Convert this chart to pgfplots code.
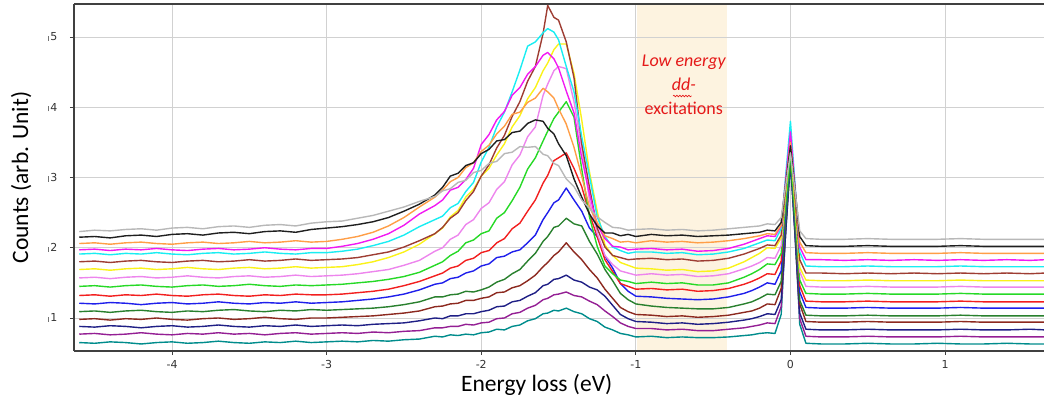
\documentclass[border=0pt]{standalone}
\usepackage{fontspec}
\setmainfont{Carlito}
\newfontfamily\tickfont{DejaVu Sans}
\usepackage{pgfplots}
\pgfplotsset{compat=1.18}
\usetikzlibrary{decorations.pathmorphing}
\definecolor{cteal}{rgb}{0.0,0.55,0.55}
\definecolor{cpurple}{rgb}{0.58,0.12,0.58}
\definecolor{cnavy}{rgb}{0.12,0.12,0.52}
\definecolor{cmaroon}{rgb}{0.55,0.16,0.12}
\definecolor{cdgreen}{rgb}{0.16,0.50,0.18}
\definecolor{cblue}{rgb}{0.12,0.12,0.92}
\definecolor{cred}{rgb}{0.95,0.12,0.12}
\definecolor{cgreen}{rgb}{0.15,0.85,0.15}
\definecolor{cviolet}{rgb}{0.93,0.52,0.93}
\definecolor{cyellow}{rgb}{0.98,0.95,0.10}
\definecolor{cbrown}{rgb}{0.62,0.24,0.20}
\definecolor{ccyan}{rgb}{0.10,0.93,0.95}
\definecolor{cmagenta}{rgb}{0.95,0.10,0.95}
\definecolor{corange}{rgb}{1.0,0.62,0.28}
\definecolor{cblack}{rgb}{0.12,0.12,0.12}
\definecolor{cgray}{rgb}{0.72,0.72,0.72}
\definecolor{bandc}{rgb}{0.992,0.953,0.878}
\definecolor{annred}{rgb}{0.9,0.1,0.1}
\begin{document}
\begin{tikzpicture}
\begin{axis}[
  set layers=standard,
  scale only axis, width=970pt, height=347pt,
  at={(0pt,0pt)}, anchor=south west,
  xmin=-4.634, xmax=1.64, ymin=0.53, ymax=5.47,
  axis x line*=box, axis y line*=left,
  xtick={-4,-3,-2,-1,0,1}, ytick={1,2,3,4,5},
  xtick pos=bottom, ytick pos=left,
  tick align=outside, major tick length=4pt,
  grid=major, grid style={line width=0.8pt, color=black!18},
  axis line style={line width=1.2pt, color=black!75},
  tick style={line width=0.8pt, color=black!75},
  /pgf/number format/assume math mode=true,
  ticklabel style={font=\tickfont\fontsize{11}{13}\selectfont, color=black!80},
  xticklabel style={yshift=-2pt},
  yticklabel style={xshift=-9pt},
  yticklabel={\textcolor{black!55}{\rule{0.8pt}{5pt}}\hspace{1.5pt}\pgfmathprintnumber{\tick}},
  xlabel={Energy loss (eV)}, ylabel={Counts (arb. Unit)},
  label style={font=\fontsize{23.5}{26}\selectfont},
  xlabel style={at={(axis description cs:0.477,-0.097)}, anchor=center},
  ylabel style={at={(axis description cs:-0.0545,0.5)}, anchor=center},
  every axis plot/.append style={line width=1.4pt, line join=round, no markers},
]
\addplot[fill=bandc, draw=none, on layer=axis background] coordinates {(-0.99,0.53) (-0.41,0.53) (-0.41,5.47) (-0.99,5.47)};

% teal
\addplot[cteal] coordinates {(-4.6,0.65) (-4.5,0.64) (-4.4,0.66) (-4.3,0.65) (-4.2,0.63) (-4.1,0.65) (-4.0,0.66) (-3.9,0.64) (-3.8,0.65) (-3.7,0.67) (-3.6,0.65) (-3.5,0.64) (-3.4,0.66) (-3.3,0.65) (-3.2,0.67) (-3.1,0.65) (-3.0,0.66)
(-2.9,0.67) (-2.8,0.66) (-2.7,0.68) (-2.6,0.67) (-2.5,0.69) (-2.4,0.70)
(-2.3,0.74) (-2.25,0.73) (-2.2,0.76) (-2.15,0.75) (-2.1,0.77) (-2.05,0.76) (-2.0,0.79) (-1.95,0.80) (-1.9,0.84) (-1.85,0.83) (-1.8,0.88) (-1.75,0.90) (-1.7,0.96) (-1.65,0.99) (-1.6,1.06) (-1.57,1.07) (-1.53,1.11) (-1.5,1.10) (-1.45,1.14) (-1.4,1.09) (-1.35,1.06) (-1.3,0.99) (-1.25,0.95) (-1.2,0.87) (-1.15,0.83) (-1.1,0.78) (-1.05,0.76) (-1.0,0.73)
(-0.9,0.74) (-0.8,0.72) (-0.7,0.73) (-0.6,0.72) (-0.5,0.72) (-0.4,0.73) (-0.3,0.75) (-0.25,0.76) (-0.2,0.78) (-0.15,0.79) (-0.1,0.78)
(-0.06,1.05) (-0.03,2.27) (0,3.45) (0.03,2.21) (0.06,0.91) (0.1,0.64)
(0.2,0.63) (0.35,0.63) (0.5,0.64) (0.65,0.63) (0.8,0.63) (0.95,0.64) (1.1,0.63) (1.25,0.63) (1.4,0.64) (1.55,0.63) (1.65,0.63)};

% purple
\addplot[cpurple] coordinates {(-4.6,0.77) (-4.5,0.78) (-4.4,0.76) (-4.3,0.77) (-4.2,0.79) (-4.1,0.77) (-4.0,0.76) (-3.9,0.78) (-3.8,0.77) (-3.7,0.79) (-3.6,0.77) (-3.5,0.78) (-3.4,0.76) (-3.3,0.78) (-3.2,0.79) (-3.1,0.77) (-3.0,0.78)
(-2.9,0.79) (-2.8,0.78) (-2.7,0.80) (-2.6,0.79) (-2.5,0.81) (-2.4,0.82)
(-2.3,0.86) (-2.25,0.86) (-2.2,0.88) (-2.15,0.88) (-2.1,0.91) (-2.05,0.90) (-2.0,0.93) (-1.95,0.94) (-1.9,0.99) (-1.85,1.00) (-1.8,1.06) (-1.75,1.08) (-1.7,1.14) (-1.65,1.18) (-1.6,1.26) (-1.57,1.28) (-1.53,1.33) (-1.5,1.34) (-1.45,1.37) (-1.4,1.32) (-1.35,1.30) (-1.3,1.24) (-1.25,1.19) (-1.2,1.10) (-1.15,1.02) (-1.1,0.93) (-1.05,0.88) (-1.0,0.85)
(-0.9,0.85) (-0.8,0.83) (-0.7,0.84) (-0.6,0.82) (-0.5,0.82) (-0.4,0.84) (-0.3,0.86) (-0.25,0.88) (-0.2,0.90) (-0.15,0.93) (-0.1,0.92)
(-0.06,1.16) (-0.03,2.25) (0,3.30) (0.03,2.17) (0.06,0.99) (0.1,0.74)
(0.2,0.73) (0.35,0.73) (0.5,0.74) (0.65,0.73) (0.8,0.73) (0.95,0.73) (1.1,0.74) (1.25,0.73) (1.4,0.73) (1.55,0.73) (1.65,0.73)};

% navy
\addplot[cnavy] coordinates {(-4.6,0.88) (-4.5,0.87) (-4.4,0.89) (-4.3,0.88) (-4.2,0.86) (-4.1,0.88) (-4.0,0.89) (-3.9,0.87) (-3.8,0.88) (-3.7,0.90) (-3.6,0.88) (-3.5,0.87) (-3.4,0.89) (-3.3,0.88) (-3.2,0.90) (-3.1,0.88) (-3.0,0.89)
(-2.9,0.90) (-2.8,0.89) (-2.7,0.91) (-2.6,0.92) (-2.5,0.93) (-2.4,0.96)
(-2.3,1.00) (-2.25,0.99) (-2.2,1.03) (-2.15,1.03) (-2.1,1.06) (-2.05,1.06) (-2.0,1.09) (-1.95,1.11) (-1.9,1.16) (-1.85,1.17) (-1.8,1.23) (-1.75,1.25) (-1.7,1.31) (-1.65,1.36) (-1.6,1.46) (-1.57,1.48) (-1.53,1.55) (-1.5,1.56) (-1.45,1.61) (-1.4,1.54) (-1.35,1.51) (-1.3,1.44) (-1.25,1.40) (-1.2,1.31) (-1.15,1.18) (-1.1,1.05) (-1.05,0.99) (-1.0,0.95)
(-0.9,0.94) (-0.8,0.92) (-0.7,0.93) (-0.6,0.91) (-0.5,0.92) (-0.4,0.94) (-0.3,0.97) (-0.25,0.99) (-0.2,1.02) (-0.15,1.06) (-0.1,1.05)
(-0.06,1.26) (-0.03,2.25) (0,3.20) (0.03,2.16) (0.06,1.07) (0.1,0.84)
(0.2,0.83) (0.35,0.83) (0.5,0.84) (0.65,0.83) (0.8,0.83) (0.95,0.83) (1.1,0.84) (1.25,0.83) (1.4,0.83) (1.55,0.84) (1.65,0.83)};

% maroon
\addplot[cmaroon] coordinates {(-4.6,0.98) (-4.5,0.99) (-4.4,0.97) (-4.3,0.99) (-4.2,0.98) (-4.1,1.00) (-4.0,0.98) (-3.9,0.97) (-3.8,0.99) (-3.7,1.00) (-3.6,0.98) (-3.5,0.99) (-3.4,1.01) (-3.3,0.99) (-3.2,0.98) (-3.1,1.00) (-3.0,1.00)
(-2.9,1.01) (-2.8,1.02) (-2.7,1.03) (-2.6,1.05) (-2.5,1.07) (-2.4,1.10)
(-2.3,1.16) (-2.25,1.17) (-2.2,1.20) (-2.15,1.21) (-2.1,1.25) (-2.05,1.25) (-2.0,1.28) (-1.95,1.30) (-1.9,1.36) (-1.85,1.37) (-1.8,1.43) (-1.75,1.46) (-1.7,1.53) (-1.65,1.61) (-1.6,1.73) (-1.57,1.79) (-1.53,1.89) (-1.5,1.94) (-1.45,2.07) (-1.4,1.94) (-1.35,1.83) (-1.3,1.69) (-1.25,1.57) (-1.2,1.41) (-1.15,1.28) (-1.1,1.15) (-1.05,1.09) (-1.0,1.05)
(-0.9,1.04) (-0.8,1.02) (-0.7,1.03) (-0.6,1.01) (-0.5,1.02) (-0.4,1.04) (-0.3,1.08) (-0.25,1.10) (-0.2,1.14) (-0.15,1.20) (-0.1,1.19)
(-0.06,1.42) (-0.03,2.48) (0,3.50) (0.03,2.37) (0.06,1.20) (0.1,0.95)
(0.2,0.94) (0.35,0.94) (0.5,0.95) (0.65,0.94) (0.8,0.94) (0.95,0.94) (1.1,0.95) (1.25,0.94) (1.4,0.94) (1.55,0.94) (1.65,0.94)};

% dark green
\addplot[cdgreen] coordinates {(-4.6,1.09) (-4.5,1.10) (-4.4,1.08) (-4.3,1.10) (-4.2,1.11) (-4.1,1.09) (-4.0,1.08) (-3.9,1.10) (-3.8,1.09) (-3.7,1.11) (-3.6,1.12) (-3.5,1.10) (-3.4,1.09) (-3.3,1.11) (-3.2,1.10) (-3.1,1.12) (-3.0,1.11)
(-2.9,1.12) (-2.8,1.13) (-2.7,1.14) (-2.6,1.16) (-2.5,1.19) (-2.4,1.23)
(-2.3,1.30) (-2.25,1.30) (-2.2,1.33) (-2.15,1.34) (-2.1,1.38) (-2.05,1.37) (-2.0,1.40) (-1.95,1.44) (-1.9,1.51) (-1.85,1.55) (-1.8,1.63) (-1.75,1.69) (-1.7,1.81) (-1.65,1.92) (-1.6,2.09) (-1.57,2.16) (-1.53,2.29) (-1.5,2.31) (-1.45,2.42) (-1.4,2.34) (-1.35,2.31) (-1.3,2.09) (-1.25,1.91) (-1.2,1.69) (-1.15,1.53) (-1.1,1.35) (-1.05,1.26) (-1.0,1.20)
(-0.9,1.17) (-0.8,1.15) (-0.7,1.14) (-0.6,1.13) (-0.5,1.13) (-0.4,1.15) (-0.3,1.20) (-0.25,1.23) (-0.2,1.28) (-0.15,1.34) (-0.1,1.33)
(-0.06,1.52) (-0.03,2.40) (0,3.25) (0.03,2.27) (0.06,1.25) (0.1,1.04)
(0.2,1.03) (0.35,1.03) (0.5,1.04) (0.65,1.03) (0.8,1.03) (0.95,1.03) (1.1,1.04) (1.25,1.03) (1.4,1.03) (1.55,1.03) (1.65,1.03)};

% blue
\addplot[cblue] coordinates {(-4.6,1.21) (-4.5,1.20) (-4.4,1.22) (-4.3,1.21) (-4.2,1.19) (-4.1,1.21) (-4.0,1.22) (-3.9,1.20) (-3.8,1.21) (-3.7,1.23) (-3.6,1.21) (-3.5,1.20) (-3.4,1.22) (-3.3,1.21) (-3.2,1.23) (-3.1,1.21) (-3.0,1.22)
(-2.9,1.23) (-2.8,1.25) (-2.7,1.27) (-2.6,1.30) (-2.5,1.34) (-2.4,1.40)
(-2.3,1.48) (-2.25,1.50) (-2.2,1.56) (-2.15,1.58) (-2.1,1.64) (-2.05,1.67) (-2.0,1.74) (-1.95,1.77) (-1.9,1.86) (-1.85,1.88) (-1.8,1.94) (-1.75,1.97) (-1.7,2.07) (-1.65,2.18) (-1.6,2.40) (-1.57,2.50) (-1.53,2.64) (-1.5,2.68) (-1.45,2.85) (-1.4,2.68) (-1.35,2.52) (-1.3,2.28) (-1.25,2.16) (-1.2,1.88) (-1.15,1.71) (-1.1,1.49) (-1.05,1.38) (-1.0,1.31)
(-0.9,1.30) (-0.8,1.28) (-0.7,1.27) (-0.6,1.26) (-0.5,1.27) (-0.4,1.30) (-0.3,1.35) (-0.25,1.39) (-0.2,1.44) (-0.15,1.50) (-0.1,1.48)
(-0.06,1.67) (-0.03,2.56) (0,3.40) (0.03,2.41) (0.06,1.37) (0.1,1.15)
(0.2,1.14) (0.35,1.14) (0.5,1.15) (0.65,1.14) (0.8,1.14) (0.95,1.14) (1.1,1.15) (1.25,1.14) (1.4,1.14) (1.55,1.14) (1.65,1.14)};

% red
\addplot[cred] coordinates {(-4.6,1.32) (-4.5,1.33) (-4.4,1.31) (-4.3,1.33) (-4.2,1.32) (-4.1,1.34) (-4.0,1.32) (-3.9,1.31) (-3.8,1.33) (-3.7,1.34) (-3.6,1.32) (-3.5,1.31) (-3.4,1.33) (-3.3,1.32) (-3.2,1.34) (-3.1,1.33) (-3.0,1.33)
(-2.9,1.34) (-2.8,1.36) (-2.7,1.38) (-2.6,1.41) (-2.5,1.46) (-2.4,1.52)
(-2.3,1.60) (-2.25,1.64) (-2.2,1.71) (-2.15,1.74) (-2.1,1.82) (-2.05,1.85) (-2.0,1.93) (-1.95,1.96) (-1.9,2.07) (-1.85,2.13) (-1.8,2.27) (-1.75,2.35) (-1.7,2.52) (-1.65,2.68) (-1.6,2.92) (-1.57,3.03) (-1.53,3.24) (-1.5,3.28) (-1.45,3.35) (-1.4,3.13) (-1.35,2.87) (-1.3,2.48) (-1.25,2.16) (-1.2,1.83) (-1.15,1.66) (-1.1,1.49) (-1.05,1.45) (-1.0,1.41)
(-0.9,1.42) (-0.8,1.40) (-0.7,1.41) (-0.6,1.38) (-0.5,1.39) (-0.4,1.42) (-0.3,1.48) (-0.25,1.52) (-0.2,1.57) (-0.15,1.63) (-0.1,1.62)
(-0.06,1.81) (-0.03,2.70) (0,3.55) (0.03,2.53) (0.06,1.46) (0.1,1.24)
(0.2,1.23) (0.35,1.23) (0.5,1.24) (0.65,1.23) (0.8,1.23) (0.95,1.23) (1.1,1.24) (1.25,1.23) (1.4,1.23) (1.55,1.23) (1.65,1.23)};

% green
\addplot[cgreen] coordinates {(-4.6,1.45) (-4.5,1.46) (-4.4,1.44) (-4.3,1.46) (-4.2,1.47) (-4.1,1.45) (-4.0,1.44) (-3.9,1.46) (-3.8,1.47) (-3.7,1.45) (-3.6,1.46) (-3.5,1.48) (-3.4,1.46) (-3.3,1.45) (-3.2,1.47) (-3.1,1.46) (-3.0,1.47)
(-2.9,1.48) (-2.8,1.50) (-2.7,1.52) (-2.6,1.55) (-2.5,1.59) (-2.4,1.65)
(-2.3,1.75) (-2.25,1.80) (-2.2,1.89) (-2.15,1.95) (-2.1,2.07) (-2.05,2.11) (-2.0,2.20) (-1.95,2.24) (-1.9,2.42) (-1.85,2.50) (-1.8,2.67) (-1.75,2.86) (-1.7,3.12) (-1.65,3.28) (-1.6,3.52) (-1.57,3.66) (-1.53,3.84) (-1.5,3.93) (-1.45,4.08) (-1.4,3.86) (-1.35,3.12) (-1.3,2.44) (-1.25,2.02) (-1.2,1.74) (-1.15,1.63) (-1.1,1.54) (-1.05,1.52) (-1.0,1.49)
(-0.9,1.51) (-0.8,1.49) (-0.7,1.50) (-0.6,1.47) (-0.5,1.47) (-0.4,1.50) (-0.3,1.58) (-0.25,1.63) (-0.2,1.69) (-0.15,1.77) (-0.1,1.76)
(-0.06,1.92) (-0.03,2.65) (0,3.35) (0.03,2.47) (0.06,1.54) (0.1,1.35)
(0.2,1.34) (0.35,1.34) (0.5,1.35) (0.65,1.34) (0.8,1.34) (0.95,1.34) (1.1,1.35) (1.25,1.34) (1.4,1.34) (1.55,1.34) (1.65,1.34)};

% violet
\addplot[cviolet] coordinates {(-4.6,1.57) (-4.5,1.58) (-4.4,1.56) (-4.3,1.58) (-4.2,1.59) (-4.1,1.57) (-4.0,1.58) (-3.9,1.60) (-3.8,1.58) (-3.7,1.57) (-3.6,1.59) (-3.5,1.60) (-3.4,1.58) (-3.3,1.59) (-3.2,1.61) (-3.1,1.59) (-3.0,1.60)
(-2.9,1.61) (-2.8,1.63) (-2.7,1.66) (-2.6,1.69) (-2.5,1.75) (-2.4,1.82)
(-2.3,1.95) (-2.25,2.00) (-2.2,2.12) (-2.15,2.18) (-2.1,2.33) (-2.05,2.40) (-2.0,2.56) (-1.95,2.64) (-1.9,2.83) (-1.85,2.94) (-1.8,3.18) (-1.75,3.32) (-1.7,3.58) (-1.65,3.72) (-1.6,4.17) (-1.57,4.33) (-1.53,4.52) (-1.5,4.58) (-1.45,4.55) (-1.4,4.08) (-1.35,3.42) (-1.3,2.68) (-1.25,2.21) (-1.2,1.89) (-1.15,1.76) (-1.1,1.67) (-1.05,1.64) (-1.0,1.61)
(-0.9,1.63) (-0.8,1.61) (-0.7,1.62) (-0.6,1.59) (-0.5,1.60) (-0.4,1.63) (-0.3,1.70) (-0.25,1.74) (-0.2,1.79) (-0.15,1.86) (-0.1,1.85)
(-0.06,2.03) (-0.03,2.83) (0,3.60) (0.03,2.65) (0.06,1.66) (0.1,1.45)
(0.2,1.44) (0.35,1.44) (0.5,1.45) (0.65,1.44) (0.8,1.44) (0.95,1.44) (1.1,1.45) (1.25,1.44) (1.4,1.44) (1.55,1.44) (1.65,1.44)};

% yellow
\addplot[cyellow] coordinates {(-4.6,1.69) (-4.5,1.70) (-4.4,1.68) (-4.3,1.70) (-4.2,1.71) (-4.1,1.69) (-4.0,1.70) (-3.9,1.72) (-3.8,1.70) (-3.7,1.69) (-3.6,1.71) (-3.5,1.72) (-3.4,1.70) (-3.3,1.71) (-3.2,1.73) (-3.1,1.71) (-3.0,1.72)
(-2.9,1.73) (-2.8,1.76) (-2.7,1.80) (-2.6,1.86) (-2.5,1.94) (-2.4,2.05)
(-2.3,2.20) (-2.25,2.28) (-2.2,2.44) (-2.15,2.53) (-2.1,2.72) (-2.05,2.83) (-2.0,3.02) (-1.95,3.13) (-1.9,3.32) (-1.85,3.48) (-1.8,3.72) (-1.75,3.88) (-1.7,4.12) (-1.65,4.28) (-1.6,4.52) (-1.57,4.63) (-1.53,4.82) (-1.5,4.90) (-1.45,4.90) (-1.4,4.48) (-1.35,3.82) (-1.3,3.08) (-1.25,2.52) (-1.2,2.04) (-1.15,1.89) (-1.1,1.79) (-1.05,1.75) (-1.0,1.71)
(-0.9,1.70) (-0.8,1.68) (-0.7,1.69) (-0.6,1.66) (-0.5,1.67) (-0.4,1.71) (-0.3,1.80) (-0.25,1.86) (-0.2,1.92) (-0.15,2.00) (-0.1,1.99)
(-0.06,2.14) (-0.03,2.81) (0,3.45) (0.03,2.61) (0.06,1.72) (0.1,1.54)
(0.2,1.53) (0.35,1.53) (0.5,1.54) (0.65,1.53) (0.8,1.53) (0.95,1.53) (1.1,1.54) (1.25,1.53) (1.4,1.53) (1.55,1.53) (1.65,1.53)};

% brown
\addplot[cbrown] coordinates {(-4.6,1.80) (-4.5,1.81) (-4.4,1.79) (-4.3,1.81) (-4.2,1.82) (-4.1,1.80) (-4.0,1.79) (-3.9,1.81) (-3.8,1.82) (-3.7,1.80) (-3.6,1.81) (-3.5,1.83) (-3.4,1.81) (-3.3,1.82) (-3.2,1.84) (-3.1,1.82) (-3.0,1.83)
(-2.9,1.84) (-2.8,1.86) (-2.7,1.90) (-2.6,1.94) (-2.5,2.01) (-2.4,2.10)
(-2.3,2.20) (-2.25,2.29) (-2.2,2.42) (-2.15,2.50) (-2.1,2.67) (-2.05,2.80) (-2.0,3.02) (-1.95,3.18) (-1.9,3.42) (-1.85,3.60) (-1.8,3.87) (-1.75,4.08) (-1.7,4.37) (-1.65,4.58) (-1.6,5.05) (-1.57,5.45) (-1.53,5.28) (-1.5,5.24) (-1.45,4.93) (-1.4,4.42) (-1.35,3.48) (-1.3,2.86) (-1.25,2.28) (-1.2,2.01) (-1.15,1.89) (-1.1,1.86) (-1.05,1.83) (-1.0,1.84)
(-0.9,1.85) (-0.8,1.83) (-0.7,1.84) (-0.6,1.81) (-0.5,1.82) (-0.4,1.85) (-0.3,1.91) (-0.25,1.95) (-0.2,1.99) (-0.15,2.04) (-0.1,2.03)
(-0.06,2.18) (-0.03,2.88) (0,3.55) (0.03,2.71) (0.06,1.83) (0.1,1.64)
(0.2,1.64) (0.35,1.63) (0.5,1.64) (0.65,1.63) (0.8,1.64) (0.95,1.63) (1.1,1.64) (1.25,1.63) (1.4,1.64) (1.55,1.63) (1.65,1.64)};

% cyan
\addplot[ccyan] coordinates {(-4.6,1.91) (-4.5,1.92) (-4.4,1.90) (-4.3,1.92) (-4.2,1.91) (-4.1,1.93) (-4.0,1.91) (-3.9,1.90) (-3.8,1.92) (-3.7,1.93) (-3.6,1.91) (-3.5,1.92) (-3.4,1.94) (-3.3,1.92) (-3.2,1.91) (-3.1,1.93) (-3.0,1.93)
(-2.9,1.95) (-2.8,1.98) (-2.7,2.03) (-2.6,2.09) (-2.5,2.18) (-2.4,2.30)
(-2.3,2.40) (-2.25,2.45) (-2.2,2.57) (-2.15,2.63) (-2.1,2.80) (-2.05,2.93) (-2.0,3.22) (-1.95,3.43) (-1.9,3.72) (-1.85,3.93) (-1.8,4.22) (-1.75,4.53) (-1.7,4.87) (-1.65,4.93) (-1.6,5.06) (-1.57,5.12) (-1.53,5.07) (-1.5,4.96) (-1.45,4.58) (-1.4,4.22) (-1.35,3.58) (-1.3,3.02) (-1.25,2.44) (-1.2,2.16) (-1.15,2.01) (-1.1,1.96) (-1.05,1.92) (-1.0,1.94)
(-0.9,1.94) (-0.8,1.92) (-0.7,1.93) (-0.6,1.90) (-0.5,1.91) (-0.4,1.94) (-0.3,1.99) (-0.25,2.03) (-0.2,2.07) (-0.15,2.11) (-0.1,2.10)
(-0.06,2.27) (-0.03,3.05) (0,3.80) (0.03,2.89) (0.06,1.94) (0.1,1.74)
(0.2,1.73) (0.35,1.73) (0.5,1.74) (0.65,1.73) (0.8,1.73) (0.95,1.73) (1.1,1.74) (1.25,1.73) (1.4,1.73) (1.55,1.73) (1.65,1.73)};

% magenta
\addplot[cmagenta] coordinates {(-4.6,1.97) (-4.5,1.98) (-4.4,1.96) (-4.3,1.98) (-4.2,1.97) (-4.1,1.99) (-4.0,1.97) (-3.9,1.96) (-3.8,1.98) (-3.7,1.99) (-3.6,1.97) (-3.5,1.98) (-3.4,2.00) (-3.3,1.98) (-3.2,1.97) (-3.1,1.99) (-3.0,1.99)
(-2.9,2.02) (-2.8,2.06) (-2.7,2.12) (-2.6,2.20) (-2.5,2.32) (-2.4,2.48)
(-2.3,2.60) (-2.25,2.68) (-2.2,2.82) (-2.15,2.86) (-2.1,2.97) (-2.05,3.13) (-2.0,3.47) (-1.95,3.61) (-1.9,3.82) (-1.85,3.94) (-1.8,4.17) (-1.75,4.28) (-1.7,4.47) (-1.65,4.58) (-1.6,4.74) (-1.57,4.78) (-1.53,4.69) (-1.5,4.56) (-1.45,4.23) (-1.4,3.92) (-1.35,3.28) (-1.3,2.77) (-1.25,2.33) (-1.2,2.13) (-1.15,2.02) (-1.1,2.01) (-1.05,1.97) (-1.0,1.98)
(-0.9,1.99) (-0.8,1.97) (-0.7,1.98) (-0.6,1.95) (-0.5,1.96) (-0.4,1.99) (-0.3,2.05) (-0.25,2.09) (-0.2,2.13) (-0.15,2.17) (-0.1,2.16)
(-0.06,2.31) (-0.03,2.99) (0,3.65) (0.03,2.85) (0.06,2.01) (0.1,1.83)
(0.2,1.83) (0.35,1.82) (0.5,1.83) (0.65,1.82) (0.8,1.83) (0.95,1.82) (1.1,1.83) (1.25,1.82) (1.4,1.83) (1.55,1.82) (1.65,1.83)};

% orange
\addplot[corange] coordinates {(-4.6,2.06) (-4.5,2.07) (-4.4,2.05) (-4.3,2.07) (-4.2,2.08) (-4.1,2.06) (-4.0,2.05) (-3.9,2.07) (-3.8,2.08) (-3.7,2.06) (-3.6,2.07) (-3.5,2.09) (-3.4,2.07) (-3.3,2.08) (-3.2,2.10) (-3.1,2.08) (-3.0,2.09)
(-2.9,2.12) (-2.8,2.16) (-2.7,2.22) (-2.6,2.31) (-2.5,2.43) (-2.4,2.58)
(-2.3,2.72) (-2.25,2.82) (-2.2,2.94) (-2.15,3.00) (-2.1,3.14) (-2.05,3.21) (-2.0,3.37) (-1.95,3.46) (-1.9,3.62) (-1.85,3.73) (-1.8,3.90) (-1.75,3.93) (-1.7,4.07) (-1.65,4.13) (-1.6,4.27) (-1.57,4.22) (-1.53,4.13) (-1.5,3.98) (-1.45,3.76) (-1.4,3.43) (-1.35,3.02) (-1.3,2.58) (-1.25,2.36) (-1.2,2.17) (-1.15,2.13) (-1.1,2.08) (-1.05,2.09) (-1.0,2.07)
(-0.9,2.10) (-0.8,2.08) (-0.7,2.09) (-0.6,2.07) (-0.5,2.08) (-0.4,2.10) (-0.3,2.13) (-0.25,2.15) (-0.2,2.17) (-0.15,2.20) (-0.1,2.19)
(-0.06,2.32) (-0.03,2.92) (0,3.50) (0.03,2.80) (0.06,2.08) (0.1,1.93)
(0.2,1.92) (0.35,1.92) (0.5,1.93) (0.65,1.92) (0.8,1.92) (0.95,1.92) (1.1,1.93) (1.25,1.92) (1.4,1.92) (1.55,1.92) (1.65,1.92)};

% black
\addplot[cblack] coordinates {(-4.6,2.15) (-4.5,2.16) (-4.4,2.14) (-4.3,2.17) (-4.2,2.18) (-4.1,2.16) (-4.0,2.19) (-3.9,2.20) (-3.8,2.18) (-3.7,2.21) (-3.6,2.22) (-3.5,2.20) (-3.4,2.23) (-3.3,2.24) (-3.2,2.22) (-3.1,2.26) (-3.0,2.28)
(-2.9,2.30) (-2.8,2.33) (-2.7,2.37) (-2.6,2.43) (-2.5,2.52) (-2.4,2.62)
(-2.3,2.75) (-2.25,2.86) (-2.2,3.02) (-2.15,3.06) (-2.1,3.17) (-2.05,3.21) (-2.0,3.34) (-1.95,3.40) (-1.9,3.52) (-1.85,3.54) (-1.8,3.64) (-1.75,3.66) (-1.7,3.77) (-1.65,3.82) (-1.6,3.80) (-1.57,3.70) (-1.53,3.62) (-1.5,3.48) (-1.45,3.31) (-1.4,2.98) (-1.35,2.72) (-1.3,2.48) (-1.25,2.31) (-1.2,2.21) (-1.15,2.21) (-1.1,2.17) (-1.05,2.19) (-1.0,2.16)
(-0.9,2.19) (-0.8,2.17) (-0.7,2.18) (-0.6,2.16) (-0.5,2.17) (-0.4,2.18) (-0.3,2.20) (-0.25,2.21) (-0.2,2.22) (-0.15,2.25) (-0.1,2.24)
(-0.06,2.36) (-0.03,2.92) (0,3.45) (0.03,2.82) (0.06,2.16) (0.1,2.03)
(0.2,2.02) (0.35,2.02) (0.5,2.03) (0.65,2.02) (0.8,2.02) (0.95,2.02) (1.1,2.03) (1.25,2.02) (1.4,2.02) (1.55,2.02) (1.65,2.02)};

% gray
\addplot[cgray] coordinates {(-4.6,2.23) (-4.5,2.25) (-4.4,2.24) (-4.3,2.26) (-4.2,2.27) (-4.1,2.25) (-4.0,2.28) (-3.9,2.29) (-3.8,2.27) (-3.7,2.30) (-3.6,2.31) (-3.5,2.29) (-3.4,2.32) (-3.3,2.33) (-3.2,2.31) (-3.1,2.35) (-3.0,2.37)
(-2.9,2.38) (-2.8,2.42) (-2.7,2.46) (-2.6,2.52) (-2.5,2.58) (-2.4,2.66)
(-2.3,2.73) (-2.25,2.81) (-2.2,2.84) (-2.15,2.93) (-2.1,2.96) (-2.05,3.07) (-2.0,3.10) (-1.95,3.20) (-1.9,3.23) (-1.85,3.34) (-1.8,3.36) (-1.75,3.44) (-1.7,3.43) (-1.65,3.44) (-1.6,3.33) (-1.57,3.31) (-1.53,3.20) (-1.5,3.17) (-1.45,2.98) (-1.4,2.87) (-1.35,2.68) (-1.3,2.56) (-1.25,2.44) (-1.2,2.36) (-1.15,2.29) (-1.1,2.28) (-1.05,2.25) (-1.0,2.26)
(-0.9,2.27) (-0.8,2.25) (-0.7,2.26) (-0.6,2.24) (-0.5,2.25) (-0.4,2.27) (-0.3,2.29) (-0.25,2.30) (-0.2,2.31) (-0.15,2.34) (-0.1,2.33)
(-0.06,2.43) (-0.03,2.90) (0,3.35) (0.03,2.81) (0.06,2.24) (0.1,2.13)
(0.2,2.12) (0.35,2.12) (0.5,2.13) (0.65,2.12) (0.8,2.12) (0.95,2.12) (1.1,2.13) (1.25,2.12) (1.4,2.12) (1.55,2.12) (1.65,2.12)};

\node[text=annred, font=\itshape\fontsize{18}{20}\selectfont] at (axis cs:-0.69,4.64) {Low energy};
\node[text=annred, font=\itshape\fontsize{18}{20}\selectfont] at (axis cs:-0.69,4.33) {dd-};
\draw[annred, line width=0.6pt, decorate, decoration={snake, amplitude=0.8pt, segment length=3pt}] (axis cs:-0.76,4.16) -- (axis cs:-0.64,4.16);
\node[text=annred, font=\fontsize{18}{20}\selectfont] at (axis cs:-0.69,3.98) {excitations};
\end{axis}
\pgfresetboundingbox
\path[use as bounding box] (-74pt,-52pt) rectangle (970pt,351pt);
\end{tikzpicture}
\end{document}
